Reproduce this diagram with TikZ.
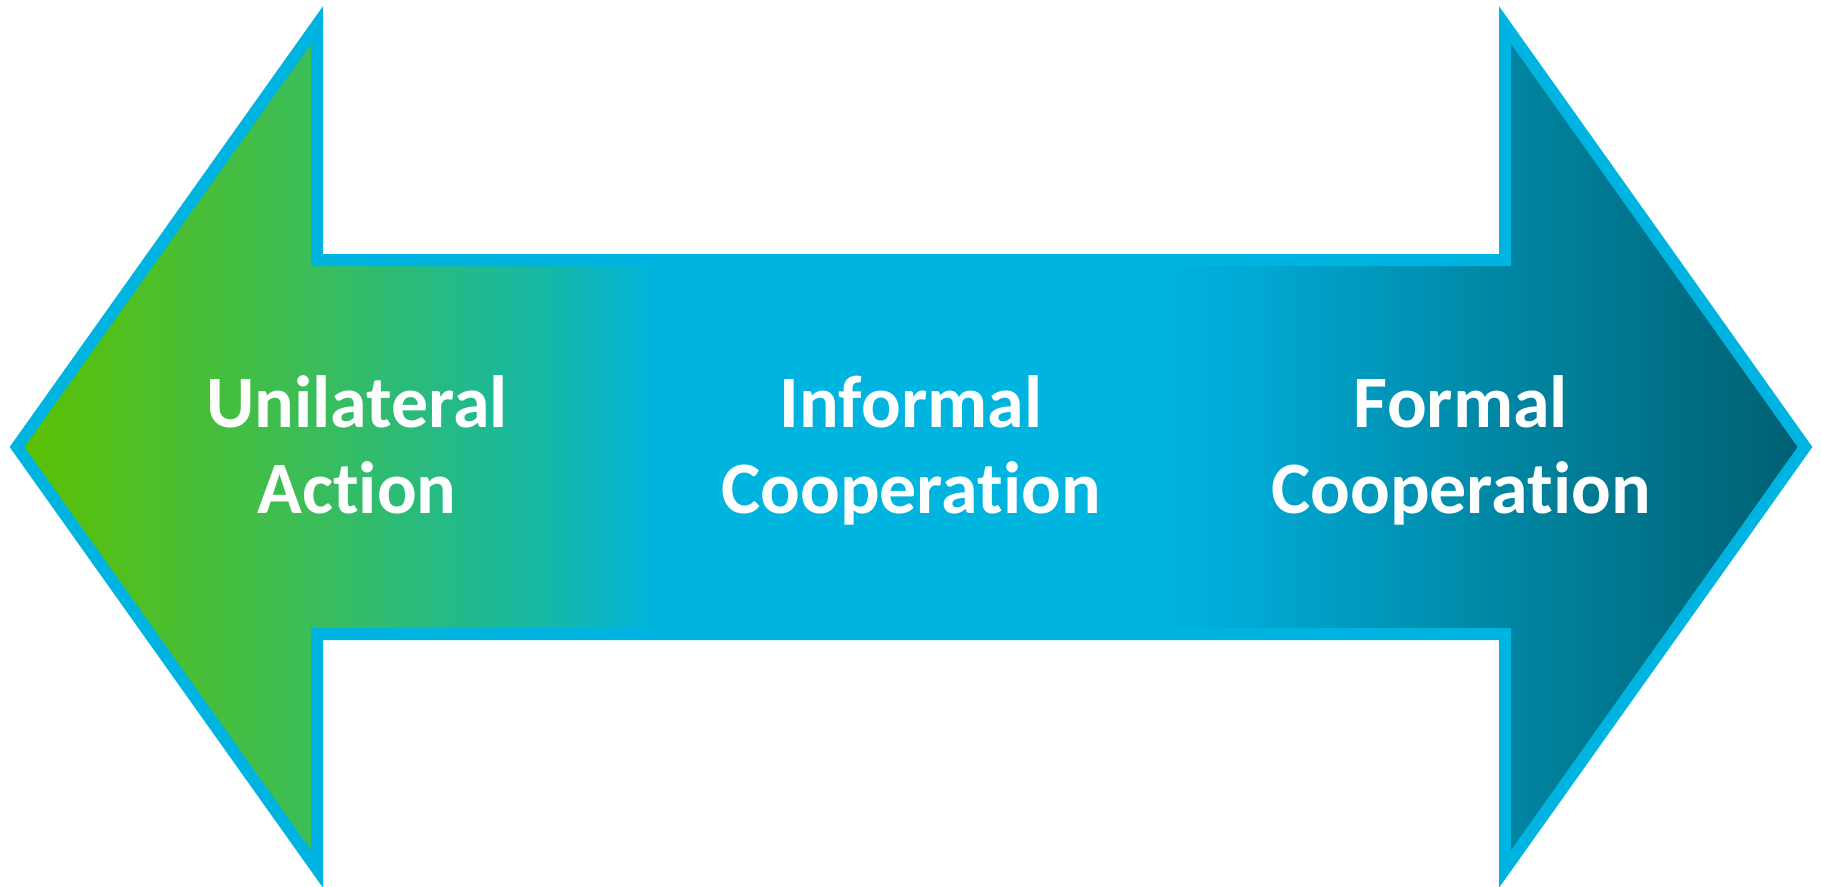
\documentclass[tikz,border=0pt]{standalone}
\usepackage{fontspec}
\setmainfont{Carlito}[Ligatures=NoCommon]
\usetikzlibrary{shadings}

% palette
\definecolor{edgecyan}{RGB}{0,180,226}
\definecolor{gLime}{RGB}{92,192,0}
\definecolor{gGreen}{RGB}{60,189,85}
\definecolor{gTeal}{RGB}{21,184,168}
\definecolor{gCyan}{RGB}{0,180,224}
\definecolor{gBlue}{RGB}{0,169,212}
\definecolor{gSea}{RGB}{0,134,163}
\definecolor{gDeep}{RGB}{0,95,112}

% left-to-right colour ramp; the path's width is mapped onto 25bp..75bp
\pgfdeclarehorizontalshading{spectrum}{100bp}{%
  color(0bp)=(gLime); color(25bp)=(gLime); color(32.9bp)=(gGreen);
  color(39.9bp)=(gTeal); color(43bp)=(gCyan); color(56.7bp)=(gCyan);
  color(59.5bp)=(gBlue); color(66.5bp)=(gSea); color(75bp)=(gDeep);
  color(100bp)=(gDeep)}

\tikzset{
  dblarrow/.style={draw=edgecyan, line width=12pt, line join=miter,
    shading=spectrum, shading angle=0},
  stage/.style={text=white, font=\bfseries\fontsize{74}{87}\selectfont,
    anchor=base, inner sep=0pt}
}

\begin{document}
\begin{tikzpicture}[x=1pt,y=-1pt]
  \useasboundingbox (0,0) rectangle (1822,886);

  % double-headed arrow
  \path[dblarrow] (17,447) -- (317,25) -- (317,260) -- (1505,260)
    -- (1505,25) -- (1805,447) -- (1505,869) -- (1505,634)
    -- (317,634) -- (317,869) -- cycle;

  % stage labels, two lines each
  \node[stage] (unilateral)  at (357,427)  {Unilateral};
  \node[stage] (unilateral2) at (357,513)  {Action};
  \node[stage] (informal)    at (911,427)  {Informal};
  \node[stage] (informal2)   at (911,513)  {Cooperation};
  \node[stage] (formal)      at (1461,427) {Formal};
  \node[stage] (formal2)     at (1461,513) {Cooperation};
\end{tikzpicture}
\end{document}
